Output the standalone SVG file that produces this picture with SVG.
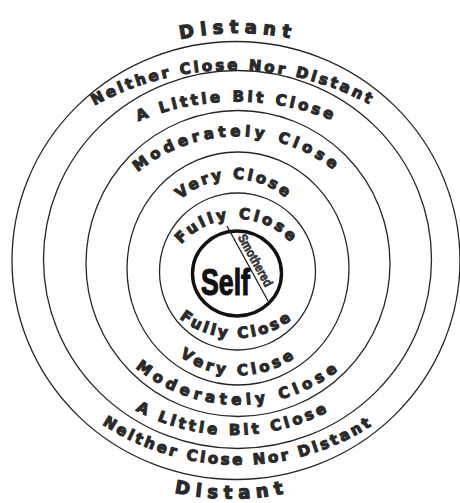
<svg xmlns="http://www.w3.org/2000/svg" xmlns:xlink="http://www.w3.org/1999/xlink" width="460" height="503" viewBox="0 0 460 503">
<style>
.ring{fill:none;stroke:#262626;stroke-width:1.3}
.lbl{font-family:"DejaVu Sans",sans-serif;font-weight:bold;font-size:15px;fill:#2a2a2a;stroke:#2a2a2a;stroke-width:1.1}
.dist{font-size:18px;stroke-width:1.2}
</style>
<defs>
<path id="pTopNeither" d="M -16.1 213.8 A 287.6 287.6 0 0 1 482.1 213.8"/>
<path id="pTopLittle" d="M 17 228.25 A 253.5 253.5 0 0 1 456 228.25"/>
<path id="pTopMod" d="M 84.4 264.1 A 155 155 0 0 1 389.6 264.1"/>
<path id="pTopVery" d="M 155.2 245.1 A 80 80 0 0 1 312.8 245.1"/>
<path id="pTopFully" d="M 164.6 279.7 A 73.5 73.5 0 0 1 309.4 279.7"/>
<path id="pBotFully" d="M 145.9 262 A 92 92 0 0 0 327.1 262"/>
<path id="pBotVery" d="M 140 292.4 A 100 100 0 0 0 337 292.4"/>
<path id="pBotMod" d="M 79.5 271.5 A 161.5 161.5 0 0 0 397.5 271.5"/>
<path id="pBotLittle" d="M 41.3 300.8 A 204 204 0 0 0 424.7 300.8"/>
<path id="pBotNeither" d="M 5 301.8 A 248 248 0 0 0 471 301.8"/>
<path id="pTopDist" d="M 104.5 68.8 A 267 267 0 0 1 371.5 68.8"/>
<path id="pBotDist" d="M 97 462.5 A 270 270 0 0 0 367 462.5"/>
</defs>
<rect width="460" height="503" fill="#ffffff"/>
<g id="rings">
<ellipse id="ring5" class="ring" cx="236" cy="260.5" rx="224" ry="219"/>
<ellipse id="ring4" class="ring" cx="237.5" cy="259.5" rx="194" ry="189"/>
<ellipse id="ring3" class="ring" cx="238" cy="263.5" rx="152" ry="153"/>
<ellipse id="ring2" class="ring" cx="238" cy="268.5" rx="111" ry="116.5"/>
<ellipse id="ring1" class="ring" cx="237.5" cy="271.5" rx="78" ry="78.5"/>
</g>
<g id="labels">
<text class="lbl dist" text-anchor="middle" letter-spacing="6"><textPath href="#pTopDist" xlink:href="#pTopDist" startOffset="50%">Distant</textPath></text>
<text class="lbl" text-anchor="middle" letter-spacing="2.9"><textPath href="#pTopNeither" xlink:href="#pTopNeither" startOffset="50%">Neither Close Nor Distant</textPath></text>
<text class="lbl" text-anchor="middle" letter-spacing="3.35"><textPath href="#pTopLittle" xlink:href="#pTopLittle" startOffset="50%">A Little Bit Close</textPath></text>
<text class="lbl" text-anchor="middle" letter-spacing="4.3"><textPath href="#pTopMod" xlink:href="#pTopMod" startOffset="50%">Moderately Close</textPath></text>
<text class="lbl" text-anchor="middle" letter-spacing="2.85"><textPath href="#pTopVery" xlink:href="#pTopVery" startOffset="50%">Very Close</textPath></text>
<text class="lbl" text-anchor="middle" letter-spacing="3.2"><textPath href="#pTopFully" xlink:href="#pTopFully" startOffset="50%">Fully Close</textPath></text>
<text class="lbl" text-anchor="middle" letter-spacing="2.9"><textPath href="#pBotFully" xlink:href="#pBotFully" startOffset="50%">Fully Close</textPath></text>
<text class="lbl" text-anchor="middle" letter-spacing="3.65"><textPath href="#pBotVery" xlink:href="#pBotVery" startOffset="50%">Very Close</textPath></text>
<text class="lbl" text-anchor="middle" letter-spacing="4.8"><textPath href="#pBotMod" xlink:href="#pBotMod" startOffset="50%">Moderately Close</textPath></text>
<text class="lbl" text-anchor="middle" letter-spacing="3.45"><textPath href="#pBotLittle" xlink:href="#pBotLittle" startOffset="50%">A Little Bit Close</textPath></text>
<text class="lbl" text-anchor="middle" letter-spacing="2.85"><textPath href="#pBotNeither" xlink:href="#pBotNeither" startOffset="50%">Neither Close Nor Distant</textPath></text>
<text class="lbl dist" text-anchor="middle" letter-spacing="6"><textPath href="#pBotDist" xlink:href="#pBotDist" startOffset="50%">Distant</textPath></text>
</g>
<g id="self">
<ellipse cx="237" cy="273.5" rx="44.5" ry="42.5" fill="none" stroke="#111" stroke-width="3.4"/>
<line x1="227" y1="226" x2="268" y2="301" stroke="#222" stroke-width="1.3"/>
<text x="201" y="295" font-family="Liberation Sans, Arial, sans-serif" font-weight="bold" font-size="37" fill="#111" stroke="#111" stroke-width="1.2" textLength="49" lengthAdjust="spacingAndGlyphs">Self</text>
<text transform="translate(251.5 262.5) rotate(61)" text-anchor="middle" font-family="Liberation Sans, Arial, sans-serif" font-weight="bold" font-size="13" fill="#333" stroke="#333" stroke-width="0.6" textLength="58" lengthAdjust="spacingAndGlyphs">Smothered</text>
</g>
</svg>
